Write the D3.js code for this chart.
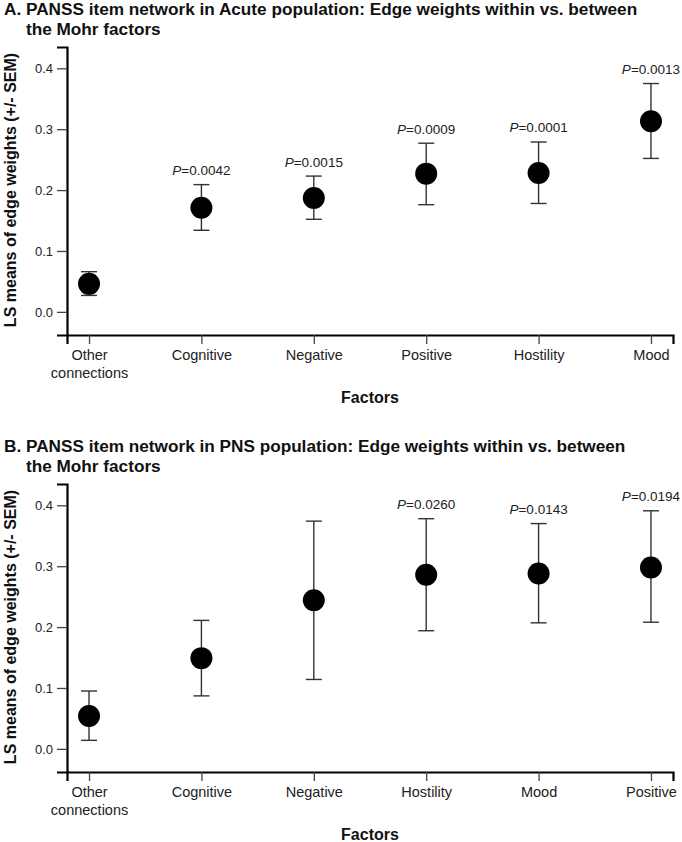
<!DOCTYPE html>
<html>
<head>
<meta charset="utf-8">
<script src="https://cdn.jsdelivr.net/npm/d3@7"></script>
<style>
  body { margin: 0; background: #fff; }
  svg { display: block; font-family: "Liberation Sans", Arial, sans-serif; }
</style>
</head>
<body>
<script>
// Panel A: Acute population
const titleA = ["A. PANSS item network in Acute population: Edge weights within vs. between", "the Mohr factors"];
const catsA = ["Other connections", "Cognitive", "Negative", "Positive", "Hostility", "Mood"];
const meanA = [0.046, 0.171, 0.187, 0.227, 0.228, 0.313];
const lowA  = [0.027, 0.134, 0.152, 0.176, 0.178, 0.252];
const highA = [0.066, 0.209, 0.223, 0.277, 0.279, 0.375];
const pA    = [null, "0.0042", "0.0015", "0.0009", "0.0001", "0.0013"];

// Panel B: PNS population
const titleB = ["B. PANSS item network in PNS population: Edge weights within vs. between", "the Mohr factors"];
const catsB = ["Other connections", "Cognitive", "Negative", "Hostility", "Mood", "Positive"];
const meanB = [0.054, 0.149, 0.244, 0.286, 0.288, 0.298];
const lowB  = [0.014, 0.087, 0.114, 0.194, 0.207, 0.208];
const highB = [0.095, 0.211, 0.374, 0.378, 0.370, 0.391];
const pB    = [null, null, null, "0.0260", "0.0143", "0.0194"];

const yTicks = [0, 0.1, 0.2, 0.3, 0.4];

const width = 682, height = 842;
const svg = d3.select("body").append("svg")
  .attr("width", width)
  .attr("height", height);

function drawPanel(top, title, cats, means, lows, highs, pvals) {
  const g = svg.append("g").attr("transform", `translate(0,${top})`);

  const x = d3.scalePoint().domain(cats).range([67, 673]).padding(0.196);
  const y = d3.scaleLinear().domain([-0.038, 0.435]).range([335, 47]);

  // title, two lines
  g.selectAll("text.title")
    .data(title)
    .enter()
    .append("text")
    .attr("class", "title")
    .attr("x", (d, i) => i === 0 ? 4 : 26)
    .attr("y", (d, i) => 15 + i * 20)
    .attr("font-size", 17.2)
    .attr("font-weight", "bold")
    .attr("fill", "#111")
    .text(d => d);

  // y axis
  const yAxis = g.append("g")
    .attr("transform", "translate(67,0)")
    .call(d3.axisLeft(y).tickValues(yTicks).tickFormat(d3.format(".1f")).tickSizeOuter(0).tickSize(10).tickPadding(4));

  // x axis
  const xAxis = g.append("g")
    .attr("transform", "translate(0,335)")
    .call(d3.axisBottom(x).tickSizeOuter(0).tickSize(9).tickPadding(0));

  [yAxis, xAxis].forEach(ax => {
    ax.select(".domain").attr("stroke", "#000").attr("stroke-width", 2.2);
    ax.selectAll(".tick line").attr("stroke", "#444").attr("stroke-width", 1.3);
    ax.selectAll(".tick text").attr("fill", "#222").attr("font-family", "Liberation Sans, Arial, sans-serif");
  });
  yAxis.selectAll(".tick text").attr("font-size", 13);

  // category labels, split onto two lines where needed
  xAxis.selectAll(".tick text").each(function(d) {
    const t = d3.select(this);
    t.text(null).attr("font-size", 14.5).attr("y", 25).attr("dy", null);
    d.split(" ").forEach((w, i) => {
      t.append("tspan").attr("x", 0).attr("dy", i === 0 ? 0 : 18).text(w);
    });
  });

  // axis titles
  g.append("text")
    .attr("x", 370)
    .attr("y", 403)
    .attr("text-anchor", "middle")
    .attr("font-size", 16)
    .attr("font-weight", "bold")
    .attr("fill", "#111")
    .text("Factors");

  g.append("text")
    .attr("transform", "translate(16,190) rotate(-90)")
    .attr("text-anchor", "middle")
    .attr("font-size", 16)
    .attr("font-weight", "bold")
    .attr("fill", "#111")
    .text("LS means of edge weights (+/- SEM)");

  // error bars
  const bars = g.append("g").selectAll("g")
    .data(cats)
    .enter()
    .append("g");

  bars.append("line")
    .attr("x1", d => x(d)).attr("x2", d => x(d))
    .attr("y1", (d, i) => y(lows[i])).attr("y2", (d, i) => y(highs[i]))
    .attr("stroke", "#333").attr("stroke-width", 1.4);
  bars.append("line")
    .attr("x1", d => x(d) - 8).attr("x2", d => x(d) + 8)
    .attr("y1", (d, i) => y(highs[i])).attr("y2", (d, i) => y(highs[i]))
    .attr("stroke", "#333").attr("stroke-width", 1.4);
  bars.append("line")
    .attr("x1", d => x(d) - 8).attr("x2", d => x(d) + 8)
    .attr("y1", (d, i) => y(lows[i])).attr("y2", (d, i) => y(lows[i]))
    .attr("stroke", "#333").attr("stroke-width", 1.4);

  // means
  g.append("g").selectAll("circle")
    .data(cats)
    .enter()
    .append("circle")
    .attr("cx", d => x(d))
    .attr("cy", (d, i) => y(means[i]))
    .attr("r", 11)
    .attr("fill", "#000");

  // p-value labels
  const pl = g.append("g").selectAll("text")
    .data(cats.filter((d, i) => pvals[i]))
    .enter()
    .append("text")
    .attr("x", d => x(d))
    .attr("y", d => y(highs[cats.indexOf(d)]) - 9.5)
    .attr("text-anchor", "middle")
    .attr("font-size", 13.5)
    .attr("fill", "#222");
  pl.append("tspan").attr("font-style", "italic").text("P");
  pl.append("tspan").text(d => "=" + pvals[cats.indexOf(d)]);
}

drawPanel(0, titleA, catsA, meanA, lowA, highA, pA);
drawPanel(437, titleB, catsB, meanB, lowB, highB, pB);
</script>
</body>
</html>
